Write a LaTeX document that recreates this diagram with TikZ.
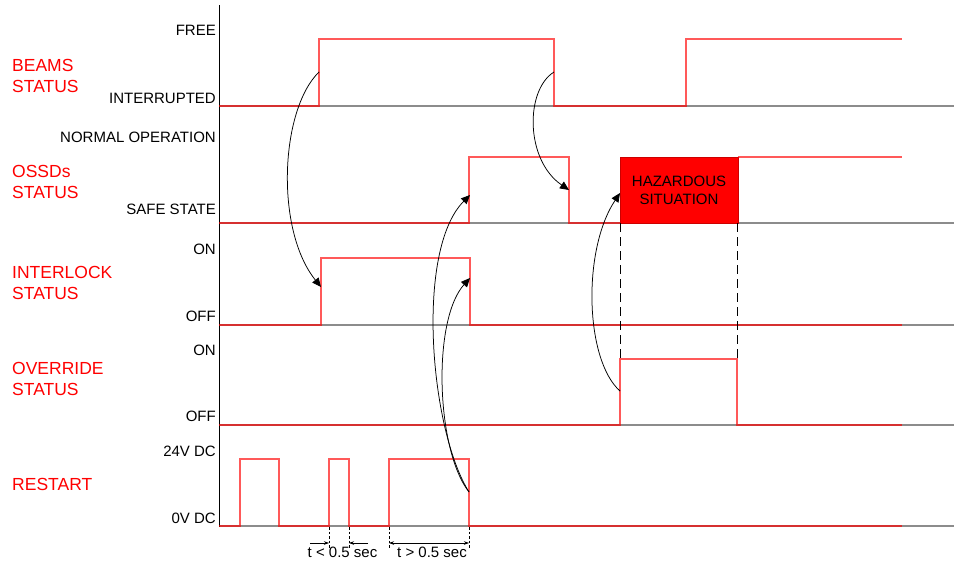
\documentclass[tikz,border=0pt]{standalone}
\usepackage{fontspec}
\setmainfont{Liberation Sans}
\usetikzlibrary{arrows.meta}
\begin{document}
\begin{tikzpicture}[x=1pt,y=-1pt,
  sig/.style={draw=red, line width=1.1pt, opacity=0.65, line join=miter},
  base/.style={draw=black!45, line width=1.5pt},
  lbl/.style={anchor=east, inner sep=0pt, font=\fontsize{15}{18}\selectfont},
  ttl/.style={anchor=west, inner sep=0pt, text=red, align=left, font=\fontsize{17.5}{21}\selectfont},
  cause/.style={draw=black, line width=0.75pt, -{Triangle[length=9pt,width=8pt]}},
  guide/.style={draw=black, line width=0.7pt, dash pattern=on 9pt off 5pt},
  dimguide/.style={draw=black, line width=0.5pt, dash pattern=on 2.5pt off 2pt},
  dimarrow/.style={draw=black, line width=0.6pt},
  dimtxt/.style={inner sep=0pt, font=\fontsize{15}{18}\selectfont}
]
\useasboundingbox (0,0) rectangle (955,563);

% baselines
\foreach \yy in {106,223,325,425,526}
  \draw[base] (219,\yy) -- (954,\yy);

% axis
\draw[black, line width=0.9pt] (219,5) -- (219,527);

% hazard box
\node[fill=red, draw=red!80!black, line width=0.6pt, minimum width=118pt, minimum height=66pt, inner sep=0pt,
      align=center, font=\fontsize{15}{18}\selectfont] (haz) at (679,190) {HAZARDOUS\\SITUATION};

% signals
\draw[sig] (219,106) -- (319,106) -- (319,39) -- (554,39) -- (554,106) -- (686,106) -- (686,39) -- (902,39);
\draw[sig] (219,223) -- (469,223) -- (469,157) -- (569,157) -- (569,223) -- (620,223);
\draw[sig] (738,157) -- (902,157);
\draw[sig] (219,325) -- (321,325) -- (321,258) -- (470,258) -- (470,325) -- (902,325);
\draw[sig] (219,425) -- (620,425) -- (620,359) -- (737,359) -- (737,425) -- (902,425);
\draw[sig] (219,526) -- (240,526) -- (240,459) -- (279,459) -- (279,526) -- (329,526) -- (329,459) -- (349,459) -- (349,526)
  -- (389,526) -- (389,459) -- (469,459) -- (469,526) -- (902,526);

% dashed guides
\draw[guide] (620,223) -- (620,359);
\draw[guide] (737,223) -- (737,359);

% left titles
\node[ttl] (tbeams) at (12,75.5) {BEAMS\\STATUS};
\node[ttl] (tossd) at (12,182) {OSSDs\\STATUS};
\node[ttl] (tinter) at (12,282.5) {INTERLOCK\\STATUS};
\node[ttl] (tover) at (12,378.5) {OVERRIDE\\STATUS};
\node[ttl] (trest) at (12,484) {RESTART};

% level labels
\node[lbl] (lfree) at (216,30.5) {FREE};
\node[lbl] (lint) at (216,98) {INTERRUPTED};
\node[lbl] (lnorm) at (216,137) {NORMAL OPERATION};
\node[lbl] (lsafe) at (216,209) {SAFE STATE};
\node[lbl] (lon1) at (216,249.5) {ON};
\node[lbl] (loff1) at (216,316) {OFF};
\node[lbl] (lon2) at (216,350.5) {ON};
\node[lbl] (loff2) at (216,416) {OFF};
\node[lbl] (l24) at (216,451.5) {24V DC};
\node[lbl] (l0) at (216,518) {0V DC};

% cause arrows
\coordinate (b1) at (319,72);
\coordinate (i1) at (321,287);
\coordinate (b2) at (554,72);
\coordinate (o2) at (569,190);
\coordinate (v1) at (620,391);
\coordinate (o3) at (620,193);
\coordinate (r1) at (469,492);
\coordinate (o1) at (470,195);
\coordinate (i2) at (470,278);

\draw[cause] (b1) .. controls (280,110) and (275,230) .. (i1);
\draw[cause] (b2) .. controls (525,90) and (525,160) .. (o2);
\draw[cause] (v1) .. controls (585,360) and (582,250) .. (o3);
\draw[cause] (r1) .. controls (430,430) and (415,250) .. (o1);
\draw[cause] (r1) .. controls (436,450) and (432,320) .. (i2);

% timing dimensions
\foreach \xx in {329,349,389,469}
  \draw[dimguide] (\xx,527) -- (\xx,548);
\coordinate (d1) at (310,543);
\coordinate (d2) at (329,543);
\coordinate (d3) at (368,543);
\coordinate (d4) at (349,543);
\coordinate (d5) at (389,543);
\coordinate (d6) at (469,543);
\draw[dimarrow, -{Stealth[length=5pt,width=3.5pt]}] (d1) -- (d2);
\draw[dimarrow, -{Stealth[length=5pt,width=3.5pt]}] (d3) -- (d4);
\draw[dimarrow, {Stealth[length=5pt,width=3.5pt]}-{Stealth[length=5pt,width=3.5pt]}] (d5) -- (d6);
\node[dimtxt] (tlt) at (342.5,552) {t < 0.5 sec};
\node[dimtxt] (tgt) at (432,552) {t > 0.5 sec};
\end{tikzpicture}
\end{document}
